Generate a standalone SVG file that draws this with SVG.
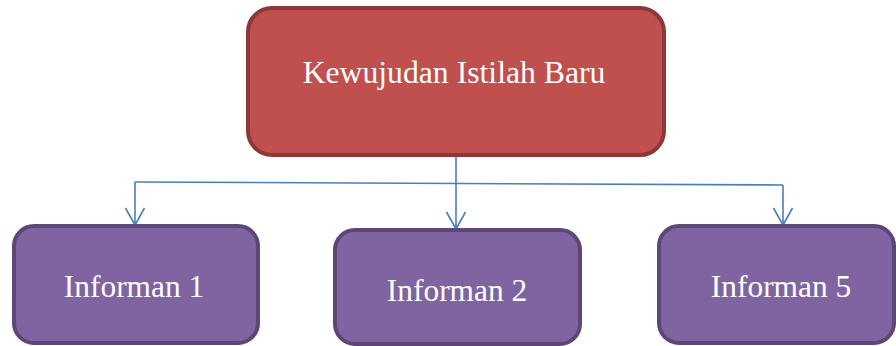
<svg xmlns="http://www.w3.org/2000/svg" width="896" height="346" viewBox="0 0 896 346">
<style>
.top{fill:#C0504D;stroke:#8C3836;stroke-width:4}
.leaf{fill:#8064A2;stroke:#5C4776;stroke-width:4}
.lbl{font-family:"Liberation Serif","Times New Roman",serif;fill:#FFFFFF;text-anchor:middle}
.con{stroke:#4A7EBB;stroke-width:1.6;fill:none}
</style>
<defs>
<marker id="arr" markerUnits="userSpaceOnUse" markerWidth="24" markerHeight="26" viewBox="-20 -13 24 26" refX="0" refY="0" orient="auto">
<path d="M-17,-9.5 L0,0 L-17,9.5" fill="none" stroke="#4A7EBB" stroke-width="1.6"/>
</marker>
</defs>
<rect width="896" height="346" fill="#FFFFFF"/>
<g id="connectors">
<line class="con" x1="456" y1="157" x2="456" y2="229" marker-end="url(#arr)"/>
<line class="con" x1="135" y1="182" x2="783" y2="185"/>
<line class="con" x1="135" y1="182" x2="135" y2="225" marker-end="url(#arr)"/>
<line class="con" x1="783" y1="185" x2="783" y2="225" marker-end="url(#arr)"/>
</g>
<g id="node-top">
<rect class="top" x="248" y="8" width="416" height="147" rx="24"/>
<text class="lbl" x="454" y="83" font-size="31.7">Kewujudan Istilah Baru</text>
</g>
<g id="node-informan1">
<rect class="leaf" x="14" y="226" width="244" height="117" rx="20"/>
<text class="lbl" x="134" y="297" font-size="31.4">Informan 1</text>
</g>
<g id="node-informan2">
<rect class="leaf" x="335" y="230" width="245" height="114" rx="20"/>
<text class="lbl" x="457" y="301" font-size="31.4">Informan 2</text>
</g>
<g id="node-informan5">
<rect class="leaf" x="659" y="226" width="235" height="117" rx="20"/>
<text class="lbl" x="781" y="297" font-size="31.4">Informan 5</text>
</g>
</svg>
